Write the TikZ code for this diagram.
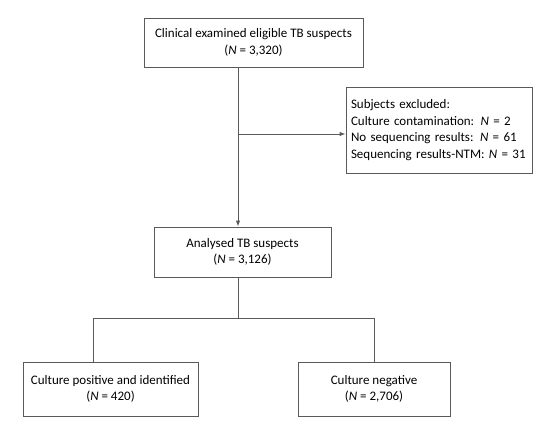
\documentclass[tikz,border=0pt]{standalone}
\usepackage{fontspec}
\setmainfont{Carlito}
\usetikzlibrary{arrows.meta}
\definecolor{linegray}{RGB}{90,90,90}
\begin{document}
\begin{tikzpicture}[x=1pt,y=-1pt,
  box/.style={draw=linegray,line width=0.9pt,align=center,inner sep=0pt,font=\fontsize{13}{16.5}\selectfont},
  conn/.style={draw=linegray,line width=0.9pt},
  arr/.style={conn,-{Latex[length=6pt,width=4.5pt]}}]
\useasboundingbox (0,0) rectangle (546,428);
\node[box,minimum width=219pt,minimum height=49pt] (top) at (253.5,42.5) {Clinical examined eligible TB suspects\\(\textit{N} = 3,320)};
\node[box,minimum width=186pt,minimum height=86pt,align=left,text width=176pt] (excl) at (439,130) {Subjects excluded:\\Culture contamination: \textit{N} = 2\\No sequencing results: \textit{N} = 61\\Sequencing results-NTM: \textit{N} = 31};
\node[box,minimum width=177pt,minimum height=50pt] (ana) at (242.5,252) {Analysed TB suspects\\(\textit{N} = 3,126)};
\node[box,minimum width=175pt,minimum height=54pt] (pos) at (110.5,389) {Culture positive and identified\\(\textit{N} = 420)};
\node[box,minimum width=152pt,minimum height=54pt] (neg) at (374,389) {Culture negative\\(\textit{N} = 2,706)};
\coordinate (v) at (238,0);
\coordinate (j) at (238,134);
\coordinate (h) at (238,318);
\coordinate (hl) at (93,318);
\coordinate (hr) at (374,318);
\draw[arr] (top.south -| v) -- (ana.north -| v);
\draw[arr] (j) -- (excl.west |- j);
\draw[conn] (ana.south -| v) -- (h);
\draw[conn] (hl) -- (hr);
\draw[conn] (hl) -- (pos.north -| hl);
\draw[conn] (hr) -- (neg.north -| hr);
\end{tikzpicture}
\end{document}
